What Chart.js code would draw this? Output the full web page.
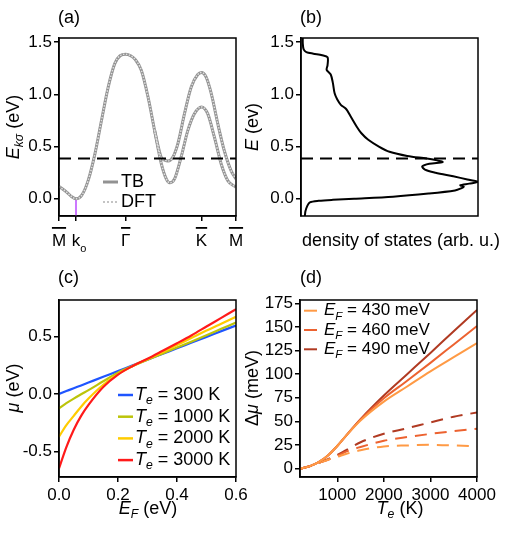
<!DOCTYPE html>
<html>
<head>
<meta charset="utf-8">
<style>
    body { margin: 0; background: #fff; }
    #wrap { position: relative; width: 510px; height: 535px; }
    canvas { position: absolute; }
</style>
</head>
<body>
<div id="wrap">
    <canvas id="bandChart" width="255" height="260" style="left:0;top:0"></canvas>
    <canvas id="dosChart" width="275" height="260" style="left:235px;top:0"></canvas>
    <canvas id="muChart" width="255" height="275" style="left:0;top:260px"></canvas>
    <canvas id="shiftChart" width="275" height="275" style="left:235px;top:260px"></canvas>
</div>
<script src="https://cdn.jsdelivr.net/npm/chart.js@4"></script>
<script>
// ---- (a) band structure ----
const bandTickPos = [0, 0.096, 0.377, 0.805, 1];
const bandTickLabels = ["M", "k", "Γ", "K", "M"];
const energyTicks = [0, 0.5, 1.0, 1.5];
const fermiLevel = 0.385;

const kLow = [0, 0.043, 0.07, 0.096, 0.128, 0.165, 0.203, 0.24, 0.278, 0.315, 0.345, 0.377, 0.405, 0.43, 0.465, 0.503, 0.54, 0.578, 0.606, 0.625, 0.653, 0.69, 0.728, 0.765, 0.805, 0.84, 0.878, 0.916, 0.953, 1.0];
const eLow = [0.118, 0.064, 0.022, 0.0, 0.032, 0.176, 0.43, 0.75, 1.07, 1.295, 1.37, 1.385, 1.37, 1.335, 1.23, 0.975, 0.655, 0.336, 0.19, 0.153, 0.19, 0.4, 0.655, 0.815, 0.88, 0.815, 0.59, 0.336, 0.176, 0.11];
const kUp = [0.54, 0.578, 0.597, 0.616, 0.644, 0.672, 0.709, 0.747, 0.784, 0.805, 0.83, 0.86, 0.897, 0.934, 0.972, 1.0];
const eUp = [0.655, 0.395, 0.37, 0.362, 0.40, 0.53, 0.815, 1.07, 1.19, 1.21, 1.17, 1.01, 0.72, 0.46, 0.27, 0.19];

// ---- (b) density of states ----
const dosEnergy = [-0.165, -0.12, -0.07, -0.035, -0.02, -0.01, 0.0, 0.02, 0.05, 0.08, 0.1, 0.115, 0.13, 0.145, 0.162, 0.185, 0.215, 0.25, 0.28, 0.31, 0.335, 0.352, 0.368, 0.385, 0.41, 0.45, 0.5, 0.565, 0.63, 0.69, 0.79, 0.86, 0.9, 0.95, 1.01, 1.11, 1.19, 1.235, 1.28, 1.355, 1.375, 1.39, 1.405, 1.43, 1.49, 1.545];
const dosValue = [0.022, 0.025, 0.035, 0.05, 0.1, 0.18, 0.3, 0.52, 0.72, 0.87, 0.905, 0.92, 0.9, 0.95, 1.0, 0.94, 0.86, 0.76, 0.70, 0.685, 0.725, 0.80, 0.77, 0.71, 0.60, 0.50, 0.44, 0.38, 0.34, 0.315, 0.28, 0.255, 0.225, 0.205, 0.19, 0.18, 0.168, 0.145, 0.15, 0.15, 0.12, 0.07, 0.03, 0.015, 0.01, 0.01];

// ---- (c) chemical potential ----
const efVals = [0, 0.025, 0.05, 0.075, 0.1, 0.15, 0.2, 0.25, 0.3, 0.35, 0.4, 0.45, 0.5, 0.55, 0.6];
const mu300 = [0, 0.025, 0.05, 0.074, 0.099, 0.149, 0.198, 0.248, 0.297, 0.347, 0.396, 0.446, 0.495, 0.545, 0.594];
const mu1000 = [-0.125, -0.08, -0.04, -0.003, 0.033, 0.11, 0.185, 0.243, 0.298, 0.35, 0.403, 0.456, 0.51, 0.565, 0.62];
const mu2000 = [-0.37, -0.27, -0.19, -0.11, -0.04, 0.08, 0.172, 0.243, 0.302, 0.362, 0.425, 0.487, 0.55, 0.61, 0.67];
const mu3000 = [-0.645, -0.46, -0.31, -0.19, -0.095, 0.06, 0.168, 0.243, 0.305, 0.372, 0.44, 0.51, 0.585, 0.66, 0.735];
const efTicks = [0, 0.2, 0.4, 0.6];
const muTicks = [-0.5, 0, 0.5];
const muLabels = ["300", "1000", "2000", "3000"];

// ---- (d) shift of chemical potential ----
const teVals = [200, 400, 600, 800, 1000, 1200, 1500, 2000, 2500, 3000, 3500, 4000];
const solid430 = [0, 2.5, 7, 14, 24, 35.5, 51, 71, 87, 103, 118, 133];
const solid460 = [0, 2.5, 7, 14, 24, 35.5, 52, 74.5, 93, 112, 131.5, 151];
const solid490 = [0, 2.5, 7, 14, 24, 35.5, 52.5, 77.5, 100, 122.5, 145.5, 168];
const dashed430 = [0, 2.5, 6, 9.5, 12.5, 15.8, 19.5, 23.5, 24.6, 25.2, 24.6, 23.5];
const dashed460 = [0, 2.5, 6, 9.5, 13.5, 18.3, 23, 29.5, 33.5, 36.8, 39.8, 42.3];
const dashed490 = [0, 2.5, 6, 10, 14.5, 20, 28, 37, 42.8, 49, 55, 59.5];
const teTicks = [1000, 2000, 3000, 4000];
const shiftTicks = [0, 25, 50, 75, 100, 125, 150, 175];
const efLabels = ["430", "460", "490"];

const FONT = "'Liberation Sans', Arial, sans-serif";
Chart.defaults.font.family = FONT;
Chart.defaults.font.size = 17;
Chart.defaults.color = "#000";
Chart.defaults.animation = false;
Chart.defaults.responsive = false;
Chart.defaults.plugins.legend.display = false;
Chart.defaults.plugins.tooltip.enabled = false;
Chart.defaults.elements.point.radius = 0;
Chart.defaults.elements.line.borderWidth = 2;

const it = (t) => ({ text: t, italic: true });
const sub = (t) => ({ text: t, italic: true, sub: true });
const rm = (t) => ({ text: t });

function partFont(part, size) {
    const s = part.sub ? size * 0.68 : size;
    return (part.italic ? "italic " : "") + s + "px " + FONT;
}

function drawRich(ctx, parts, x, y, size, opts = {}) {
    ctx.save();
    ctx.translate(x, y);
    if (opts.rotate) ctx.rotate(-Math.PI / 2);
    ctx.textBaseline = "middle";
    ctx.textAlign = "left";
    ctx.fillStyle = "#000";
    let total = 0;
    const widths = parts.map((p) => {
        ctx.font = partFont(p, size);
        const w = ctx.measureText(p.text).width;
        total += w;
        return w;
    });
    let cx = opts.left ? 0 : -total / 2;
    parts.forEach((p, i) => {
        ctx.font = partFont(p, size);
        ctx.fillText(p.text, cx, p.sub ? size * 0.33 : 0);
        cx += widths[i];
    });
    ctx.restore();
}

function sampleLine(ctx, x1, x2, y, color, width, dash) {
    ctx.save();
    ctx.strokeStyle = color;
    ctx.lineWidth = width;
    ctx.setLineDash(dash || []);
    ctx.beginPath();
    ctx.moveTo(x1, y);
    ctx.lineTo(x2, y);
    ctx.stroke();
    ctx.restore();
}

const frame = {
    id: "frame",
    afterDatasetsDraw(chart) {
        const { ctx, chartArea: a } = chart;
        ctx.save();
        ctx.strokeStyle = "#000";
        ctx.lineWidth = 1.5;
        ctx.strokeRect(a.left, a.top, a.right - a.left, a.bottom - a.top);
        ctx.restore();
    },
};

function makeScale(min, max, tickValues, format, opts = {}) {
    return {
        type: "linear",
        min: min,
        max: max,
        display: opts.display !== false,
        afterBuildTicks: (scale) => {
            scale.ticks = tickValues.map((v) => ({ value: v }));
        },
        afterFit: (scale) => {
            if (opts.width) scale.width = opts.width;
            if (opts.height) scale.height = opts.height;
        },
        ticks: {
            callback: format,
            autoSkip: false,
            maxRotation: 0,
            minRotation: 0,
            padding: opts.padding ?? 2,
            color: "#000",
            font: { size: 17 },
        },
        grid: {
            drawOnChartArea: false,
            drawTicks: true,
            tickLength: 5,
            color: "#000",
            lineWidth: 1.5,
        },
        border: { display: true, color: "#000", width: 1.5 },
    };
}

function fmt1(v) {
    return Math.abs(v) < 1e-9 ? "0.0" : v.toFixed(1);
}

function pairs(xs, ys) {
    return xs.map((x, i) => ({ x: x, y: ys[i] }));
}

function createBandChart() {
    const canvas = document.getElementById("bandChart");
    const tb = "#929292";
    const dft = "#e0e0e0";

    const decor = {
        id: "decorA",
        afterDraw(chart) {
            const ctx = chart.ctx;
            const xs = chart.scales.x;
            const base = chart.chartArea.bottom;
            ctx.save();
            ctx.font = "17px " + FONT;
            ctx.fillStyle = "#000";
            bandTickLabels.forEach((lab, i) => {
                const px = xs.getPixelForValue(bandTickPos[i]);
                const w = ctx.measureText(lab).width;
                if (lab === "k") {
                    ctx.font = "11px " + FONT;
                    ctx.textBaseline = "middle";
                    ctx.fillText("o", px + w / 2, base + 33);
                    ctx.font = "17px " + FONT;
                } else {
                    ctx.fillRect(px - w / 2, base + 11, w, 1.8);
                }
            });
            ctx.restore();

            drawRich(ctx, [rm("(a)")], 58, 18, 18, { left: true });
            drawRich(ctx, [it("E"), sub("kσ"), rm(" (eV)")], 14, 127, 18, { rotate: true });
            sampleLine(ctx, 103, 118, 182, tb, 3);
            sampleLine(ctx, 103, 118, 202, "#c4c4c4", 2.2, [2, 2]);
            drawRich(ctx, [rm("TB")], 121, 182, 18, { left: true });
            drawRich(ctx, [rm("DFT")], 121, 202, 18, { left: true });
        },
    };

    new Chart(canvas, {
        type: "line",
        data: {
            datasets: [
                { data: pairs(kLow, eLow), borderColor: dft, borderWidth: 1.5, borderDash: [1.5, 1.5], cubicInterpolationMode: "monotone", order: 1 },
                { data: pairs(kUp, eUp), borderColor: dft, borderWidth: 1.5, borderDash: [1.5, 1.5], cubicInterpolationMode: "monotone", order: 1 },
                { data: pairs(kLow, eLow), borderColor: tb, borderWidth: 3, cubicInterpolationMode: "monotone", order: 2 },
                { data: pairs(kUp, eUp), borderColor: tb, borderWidth: 3, cubicInterpolationMode: "monotone", order: 2 },
                { data: [{ x: 0, y: fermiLevel }, { x: 1, y: fermiLevel }], borderColor: "#000", borderWidth: 2, borderDash: [12, 7], order: 0 },
                { data: [{ x: bandTickPos[1], y: 0 }, { x: bandTickPos[1], y: -0.165 }], borderColor: "#cc77ff", borderWidth: 2, order: 3 },
            ],
        },
        options: {
            layout: { padding: { left: 19, right: 19, top: 38, bottom: 14 } },
            scales: {
                x: makeScale(0, 1, bandTickPos, (v, i) => bandTickLabels[i], { height: 30, padding: 10 }),
                y: makeScale(-0.165, 1.54, energyTicks, fmt1, { width: 40 }),
            },
        },
        plugins: [frame, decor],
    });
}

function createDosChart() {
    const canvas = document.getElementById("dosChart");

    const decor = {
        id: "decorB",
        afterDraw(chart) {
            const ctx = chart.ctx;
            drawRich(ctx, [rm("(b)")], 65, 18, 18, { left: true });
            drawRich(ctx, [it("E"), rm(" (ev)")], 18, 127, 18, { rotate: true });
            drawRich(ctx, [rm("density of states (arb. u.)")], 166, 241, 18);
        },
    };

    new Chart(canvas, {
        type: "line",
        data: {
            datasets: [
                { data: pairs(dosValue, dosEnergy), borderColor: "#000", borderWidth: 2, tension: 0.3 },
                { data: [{ x: 0, y: fermiLevel }, { x: 1, y: fermiLevel }], borderColor: "#000", borderWidth: 2, borderDash: [12, 7] },
            ],
        },
        options: {
            layout: { padding: { left: 26, right: 32, top: 38, bottom: 44 } },
            scales: {
                x: makeScale(0, 1, [], () => "", { display: false }),
                y: makeScale(-0.165, 1.54, energyTicks, fmt1, { width: 40 }),
            },
        },
        plugins: [frame, decor],
    });
}

function createMuChart() {
    const canvas = document.getElementById("muChart");
    const colors = ["#1f55ff", "#bcc40a", "#ffcc00", "#ff1a1a"];
    const series = [mu300, mu1000, mu2000, mu3000];

    const decor = {
        id: "decorC",
        afterDraw(chart) {
            const ctx = chart.ctx;
            drawRich(ctx, [rm("(c)")], 58, 18, 18, { left: true });
            drawRich(ctx, [it("μ"), rm(" (eV)")], 14, 128, 18, { rotate: true });
            drawRich(ctx, [it("E"), sub("F"), rm(" (eV)")], 148, 249, 18);
            muLabels.forEach((lab, i) => {
                const y = 135 + i * 21.7;
                sampleLine(ctx, 118, 133, y, colors[i], 2.5);
                drawRich(ctx, [it("T"), sub("e"), rm(" = " + lab + " K")], 135, y, 18, { left: true });
            });
        },
    };

    new Chart(canvas, {
        type: "line",
        data: {
            datasets: series.map((s, i) => ({
                data: pairs(efVals, s),
                borderColor: colors[i],
                borderWidth: 2.2,
                cubicInterpolationMode: "monotone",
                order: 3 - i,
            })),
        },
        options: {
            layout: { padding: { left: 19, right: 19, top: 40, bottom: 28 } },
            scales: {
                x: makeScale(0, 0.6, efTicks, fmt1, { height: 30, padding: 3 }),
                y: makeScale(-0.72, 0.815, muTicks, fmt1, { width: 40 }),
            },
        },
        plugins: [frame, decor],
    });
}

function createShiftChart() {
    const canvas = document.getElementById("shiftChart");
    const colors = ["#ff9a45", "#ec6230", "#b03a22"];
    const solids = [solid430, solid460, solid490];
    const dashes = [dashed430, dashed460, dashed490];

    const decor = {
        id: "decorD",
        afterDraw(chart) {
            const ctx = chart.ctx;
            drawRich(ctx, [rm("(d)")], 65, 18, 18, { left: true });
            drawRich(ctx, [rm("Δ"), it("μ"), rm(" (meV)")], 18, 128, 18, { rotate: true });
            drawRich(ctx, [it("T"), sub("e"), rm(" (K)")], 165, 249, 18);
            efLabels.forEach((lab, i) => {
                const y = 50.7 + i * 19.3;
                sampleLine(ctx, 69, 82, y, colors[i], 2);
                drawRich(ctx, [it("E"), sub("F"), rm(" = " + lab + " meV")], 89, y, 17, { left: true });
            });
        },
    };

    const datasets = [];
    solids.forEach((s, i) => {
        datasets.push({ data: pairs(teVals, s), borderColor: colors[i], borderWidth: 2, cubicInterpolationMode: "monotone" });
    });
    dashes.forEach((s, i) => {
        datasets.push({ data: pairs(teVals, s), borderColor: colors[i], borderWidth: 2, borderDash: [12, 8], cubicInterpolationMode: "monotone" });
    });

    new Chart(canvas, {
        type: "line",
        data: { datasets: datasets },
        options: {
            layout: { padding: { left: 25, right: 33, top: 40, bottom: 28 } },
            scales: {
                x: makeScale(200, 4000, teTicks, (v) => String(v), { height: 30, padding: 3 }),
                y: makeScale(-8.8, 178.5, shiftTicks, (v) => String(v), { width: 40 }),
            },
        },
        plugins: [frame, decor],
    });
}

createBandChart();
createDosChart();
createMuChart();
createShiftChart();
</script>
</body>
</html>
